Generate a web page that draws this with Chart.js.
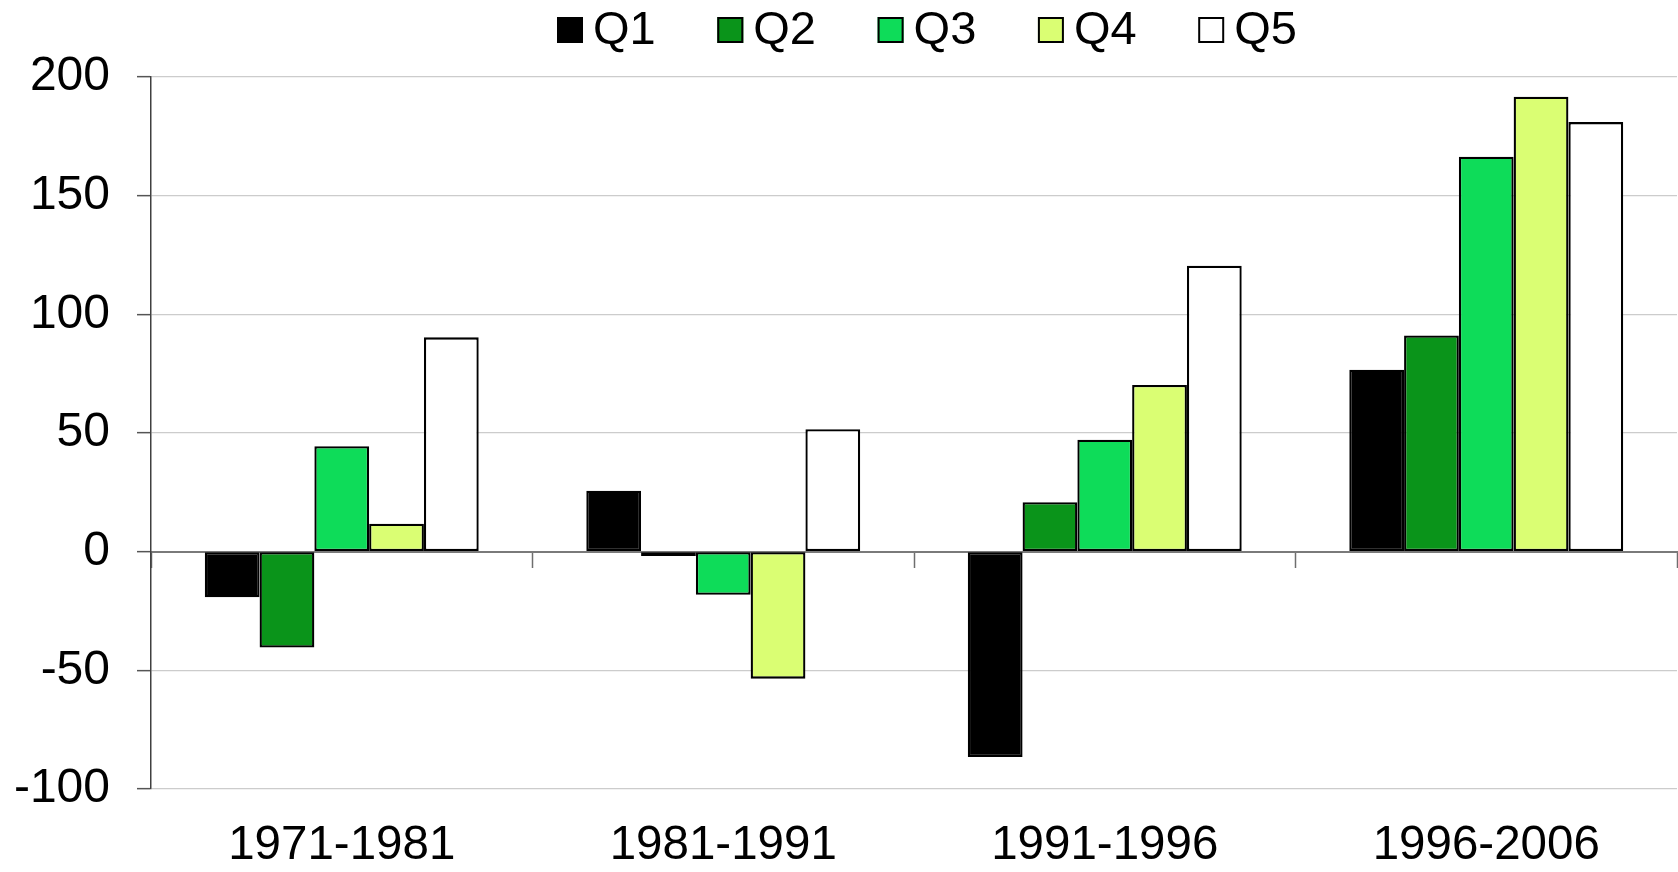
<!DOCTYPE html>
<html><head><meta charset="utf-8">
<script src="https://cdn.jsdelivr.net/npm/chart.js@4.4.1/dist/chart.umd.min.js"></script>
<style>html,body{margin:0;padding:0;background:#fff;}canvas{display:block}</style>
</head><body>
<canvas id="c" width="1678" height="872"></canvas>
<script>
// ---- data ----
const categories = ['1971-1981', '1981-1991', '1991-1996', '1996-2006'];
const seriesNames = ['Q1', 'Q2', 'Q3', 'Q4', 'Q5'];
const q1Values = [-19.2, 25.7, -86.5, 76.7];
const q2Values = [-40.4, -1.8, 20.8, 91.1];
const q3Values = [44.4, -18.2, 47.2, 166.4];
const q4Values = [11.8, -53.5, 70.2, 191.7];
const q5Values = [90.3, 51.6, 120.5, 181.0];
const yTickValues = [-100, -50, 0, 50, 100, 150, 200];

// ---- styles ----
const seriesValues = [q1Values, q2Values, q3Values, q4Values, q5Values];
const seriesColors = ['#000000', '#0a941a', '#0edc59', '#dafe73', '#ffffff'];
const FONT = '"Liberation Sans", Arial, sans-serif';
Chart.defaults.font.family = FONT;
Chart.defaults.color = '#000';

const topLegend = {
  id: 'topLegend',
  afterDraw(chart, args, opts) {
    const ctx = chart.ctx;
    ctx.save();
    ctx.font = opts.fontSize + 'px ' + FONT;
    ctx.textBaseline = 'alphabetic';
    ctx.textAlign = 'left';
    chart.data.datasets.forEach((ds, i) => {
      const x = opts.startX + i * opts.step;
      ctx.fillStyle = ds.backgroundColor;
      ctx.fillRect(x, opts.boxTop, opts.boxSize, opts.boxSize);
      ctx.lineWidth = opts.boxBorder;
      ctx.strokeStyle = '#000';
      ctx.strokeRect(x + opts.boxBorder / 2, opts.boxTop + opts.boxBorder / 2,
                     opts.boxSize - opts.boxBorder, opts.boxSize - opts.boxBorder);
      ctx.fillStyle = '#000';
      ctx.fillText(ds.label, x + opts.textGap, opts.baseline);
    });
    ctx.restore();
  }
};

new Chart(document.getElementById('c'), {
  type: 'bar',
  data: {
    labels: categories,
    datasets: seriesNames.map((name, i) => ({
      label: name,
      data: seriesValues[i],
      backgroundColor: seriesColors[i],
      borderColor: '#000',
      borderWidth: 2.3,
      borderSkipped: false,
      barPercentage: 1,
      categoryPercentage: 0.718,
      xAxisID: 'x',
      yAxisID: 'y'
    }))
  },
  options: {
    responsive: false,
    animation: false,
    devicePixelRatio: 1,
    layout: { padding: { top: 77, left: 0, right: 1, bottom: 0 } },
    plugins: {
      legend: { display: false },
      tooltip: { enabled: false },
      topLegend: { startX: 557, step: 160.3, boxTop: 17, boxSize: 26, boxBorder: 2,
                   textGap: 36, baseline: 44, fontSize: 47 }
    },
    scales: {
      x: {
        type: 'category',
        position: 'bottom',
        offset: true,
        grid: { display: false, drawTicks: false },
        border: { display: false },
        ticks: { font: { size: 47.5 }, padding: 28, maxRotation: 0, autoSkip: false, color: '#000' },
        afterFit(s) { s.height = 83; }
      },
      x0: {
        type: 'category',
        labels: categories,
        position: { y: 0 },
        offset: true,
        grid: { offset: true, drawOnChartArea: false, drawTicks: true, tickLength: 15,
                tickColor: '#6e6e6e', tickWidth: 1.5 },
        border: { display: true, color: '#7a7a7a', width: 2 },
        ticks: { display: false }
      },
      y: {
        position: 'left',
        min: -100,
        max: 200,
        afterBuildTicks(s) { s.ticks = yTickValues.map(v => ({ value: v })); },
        grid: {
          color: c => (c.tick && c.tick.value === 0) ? 'rgba(0,0,0,0)' : '#cccccc',
          lineWidth: 1.3,
          tickLength: 14,
          tickColor: '#555',
          tickWidth: 1.5
        },
        border: { display: true, color: '#404040', width: 1.5 },
        ticks: { font: { size: 48 }, padding: 27, color: '#000' },
        afterFit(s) { s.width = 151; }
      }
    }
  },
  plugins: [topLegend]
});
</script>
</body></html>
